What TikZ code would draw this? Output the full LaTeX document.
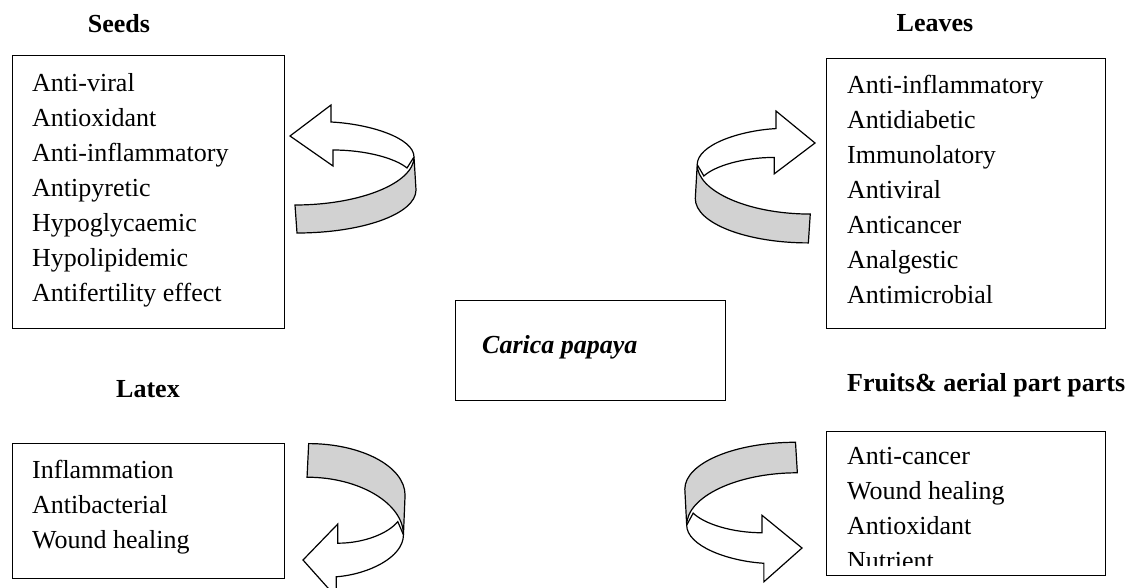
\documentclass[tikz,border=0pt]{standalone}
\usepackage{fontspec}
\setmainfont{Liberation Serif}

% fleche courbe en ruban (pointe en (0,0), vers la gauche)
\newcommand{\flechecourbe}{%
\draw[fleche, fill=white] (0,0) -- (41,-31) -- (41,-14) .. controls (80,-12) and (124,2) .. (124,21) -- (117,32) .. controls (105,22) and (75,14) .. (43,14) -- (43,30) -- cycle;
\draw[fleche, fill=gray!35] (124,21) .. controls (124,47) and (70,69) .. (5,69) -- (7,97) .. controls (72,97) and (126,78) .. (126,54) -- cycle;
}

\begin{document}
\begin{tikzpicture}[x=1pt,y=-1pt]
\tikzstyle{boite}=[draw, line width=1.3pt, anchor=north west, inner sep=0pt]
\tikzstyle{titre}=[font=\fontsize{26}{30}\selectfont\bfseries, inner sep=0pt]
\tikzstyle{liste}=[font=\fontsize{26}{35}\selectfont, align=left, anchor=north west, inner sep=0pt]
\tikzstyle{fleche}=[line width=1.2pt, line join=miter]
\useasboundingbox (0,0) rectangle (1134,588);

% graines
\node[titre, anchor=base] (graines-titre) at (119,33) {Seeds};
\node[boite, minimum width=272pt, minimum height=273pt] (graines) at (12,55) {};
\node[liste] (graines-liste) at (32,72.8) {Anti-viral\\Antioxidant\\Anti-inflammatory\\Antipyretic\\Hypoglycaemic\\Hypolipidemic\\Antifertility effect};

% feuilles
\node[titre, anchor=base] (feuilles-titre) at (935,32) {Leaves};
\node[boite, minimum width=279pt, minimum height=270pt] (feuilles) at (826,58) {};
\node[liste] (feuilles-liste) at (847,75.1) {Anti-inflammatory\\Antidiabetic\\Immunolatory\\Antiviral\\Anticancer\\Analgestic\\Antimicrobial};

% plante
\node[boite, minimum width=270pt, minimum height=100pt] (papaye) at (455,300) {};
\node[font=\fontsize{26}{30}\selectfont\bfseries\itshape, anchor=base west, inner sep=0pt] (papaye-texte) at (482,353) {Carica papaya};

% latex
\node[titre, anchor=base] (latex-titre) at (148,397) {Latex};
\node[boite, minimum width=272pt, minimum height=135pt] (latex) at (12,443) {};
\node[liste] (latex-liste) at (32,460.1) {Inflammation\\Antibacterial\\Wound healing};

% fruits
\node[titre, anchor=base west] (fruits-titre) at (847,391) {Fruits\& aerial part parts};
\node[boite, minimum width=279pt, minimum height=144pt] (fruits) at (826,431) {};
\begin{scope}
\clip (826,431) rectangle (1105,565);
\node[liste] (fruits-liste) at (847,447.1) {Anti-cancer\\Wound healing\\Antioxidant\\Nutrient};
\end{scope}

% fleches
\begin{scope}[shift={(290,136)}]
\flechecourbe
\end{scope}
\begin{scope}[shift={(815,143)}, xscale=-0.95, yscale=1.03]
\flechecourbe
\end{scope}
\begin{scope}[shift={(303,560)}, xscale=0.81, yscale=-1.2]
\flechecourbe
\end{scope}
\begin{scope}[shift={(802,548)}, xscale=-0.93, yscale=-1.09]
\flechecourbe
\end{scope}
\end{tikzpicture}
\end{document}
